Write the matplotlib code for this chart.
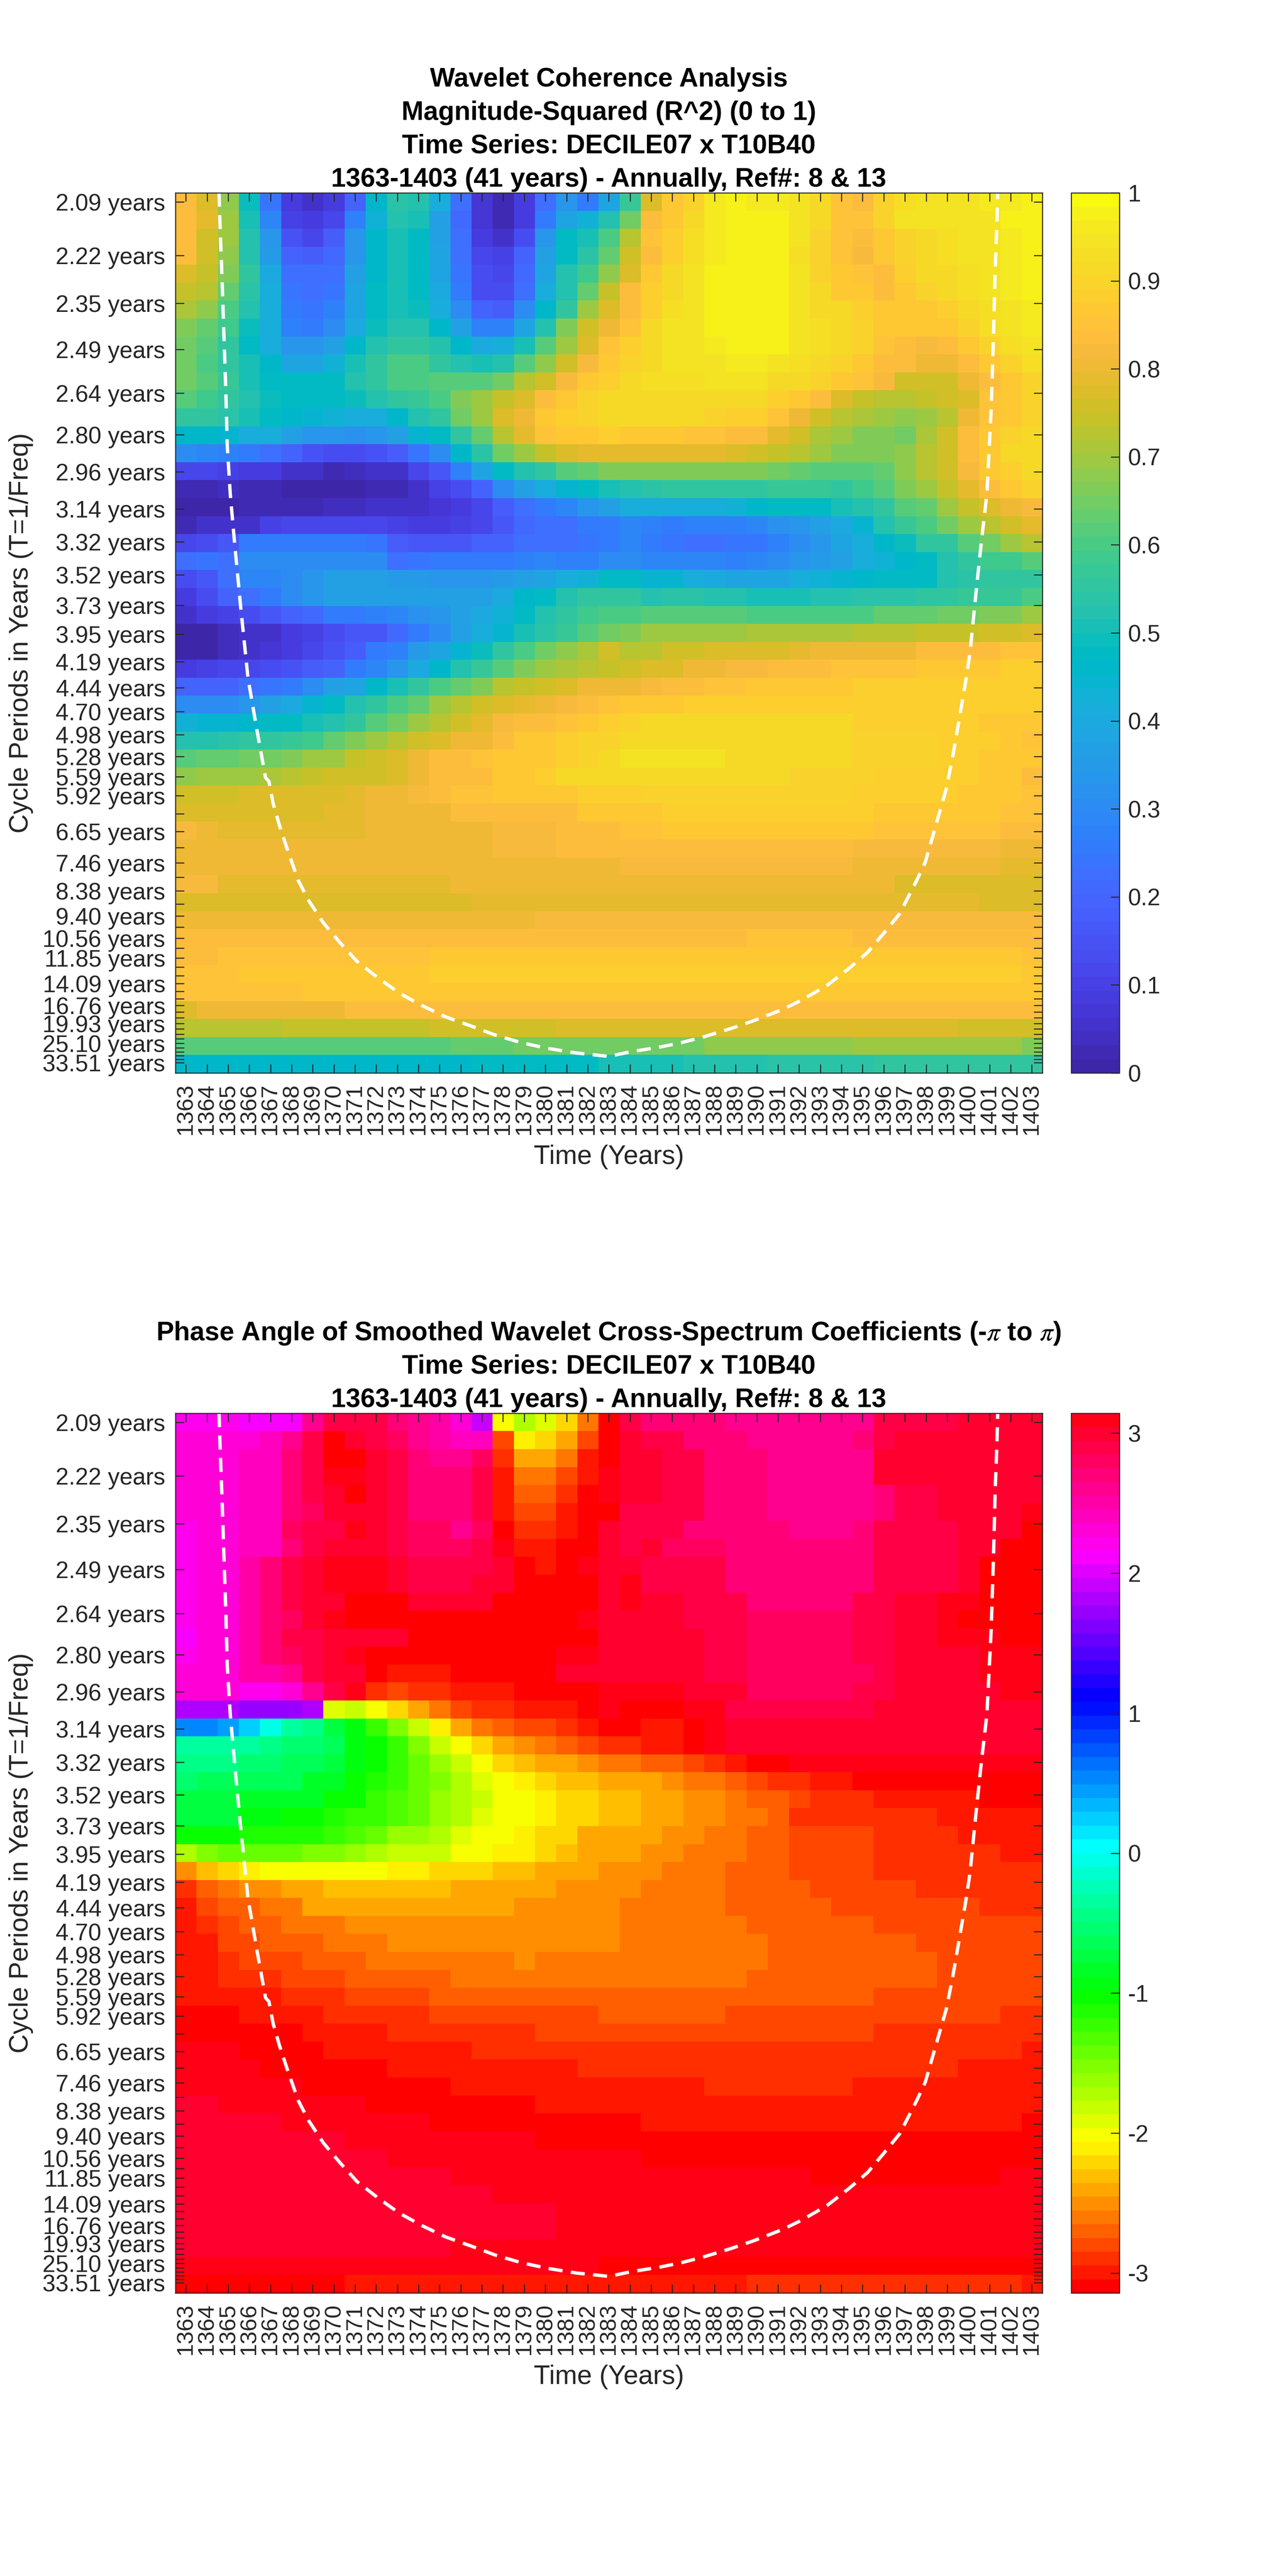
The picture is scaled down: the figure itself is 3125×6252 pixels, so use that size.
import numpy as np
import matplotlib
matplotlib.use("Agg")
import matplotlib.pyplot as plt
from matplotlib.colors import ListedColormap, hsv_to_rgb

plt.rcParams['font.family'] = ['Liberation Sans', 'DejaVu Sans']
plt.rcParams['mathtext.fontset'] = 'stix'

years = list(range(1363, 1404))
cycle_periods = [2.09,2.22,2.35,2.49,2.64,2.80,2.96,3.14,3.32,3.52,3.73,3.95,4.19,4.44,4.70,4.98,5.28,5.59,5.92,6.27,6.65,7.05,7.46,7.91,8.38,8.88,9.40,9.96,10.56,11.18,11.85,12.55,13.30,14.09,14.93,15.82,16.76,17.75,18.81,19.93,21.11,22.37,23.70,25.10,26.60,28.18,29.85,31.63,33.51]
labelled_periods = [2.09,2.22,2.35,2.49,2.64,2.80,2.96,3.14,3.32,3.52,3.73,3.95,4.19,4.44,4.70,4.98,5.28,5.59,5.92,6.65,7.46,8.38,9.40,10.56,11.85,14.09,16.76,19.93,25.10,33.51]

# Cone of influence (year, frequency in 1/years)
coi_years = [1364.57,1364.63,1364.71,1364.79,1364.89,1364.96,1365.10,1365.30,1365.58,1365.94,1366.33,1366.77,1366.93,1367.13,1367.43,1367.83,1368.32,1368.82,1369.51,1370.31,1371.10,1372.10,1373.09,1374.18,1375.28,1376.47,1377.66,1378.85,1380.05,1381.44,1383.00,1384.03,1385.44,1386.45,1387.46,1388.77,1389.88,1391.20,1392.10,1393.31,1394.32,1395.23,1396.04,1396.75,1397.55,1397.96,1398.46,1398.96,1399.27,1399.57,1399.87,1400.08,1400.34,1400.58,1400.88,1401.08,1401.19,1401.27,1401.35,1401.39]
coi_freq = [.4832,.4625,.4395,.4126,.3801,.3513,.3264,.3015,.2688,.2302,.2052,.1783,.1764,.1649,.1534,.1400,.1247,.1141,.1026,.0921,.0825,.0739,.0661,.0595,.0537,.0490,.0441,.0403,.0374,.0349,.0331,.0355,.0380,.0403,.0432,.0476,.0518,.0575,.0623,.0700,.0786,.0872,.0978,.1074,.1246,.1342,.1534,.1726,.1898,.2089,.2282,.2435,.2723,.2976,.3264,.3704,.4088,.4433,.4664,.4832]

# Coherence (R^2) in hundredths, one list per period row
R01=[83,78,68,49,24,8,5,8,20,46,54,53,42,23,7,2,8,22,33,25,38,57,77,86,90,96,98,96,96,95,91,85,84,90,93,94,94,94,96,96,98]
R02=[83,79,69,50,29,10,8,12,27,43,52,51,36,21,7,3,9,26,38,43,52,65,83,87,92,96,97,97,97,95,91,85,85,90,94,95,95,94,95,97,98]
R03=[84,76,69,52,33,15,12,18,33,46,50,47,37,22,9,5,14,33,47,50,60,72,85,89,93,96,97,97,97,94,90,85,83,87,90,92,93,94,95,96,98]
R04=[83,76,68,53,35,20,18,21,34,46,50,47,39,23,12,10,20,36,47,54,64,75,84,89,93,96,98,98,98,93,90,85,82,86,90,92,93,94,95,96,98]
R05=[78,74,66,55,40,23,22,23,36,46,50,47,39,24,13,11,21,39,52,58,68,77,87,91,94,97,98,98,97,94,90,87,85,84,88,91,92,93,95,96,97]
R06=[74,72,63,54,41,24,23,24,38,47,50,47,40,25,14,13,22,41,53,63,74,83,88,91,94,97,98,98,97,94,91,87,86,84,87,90,91,93,94,96,97]
R07=[71,68,60,52,41,26,24,27,39,48,51,49,42,30,19,18,31,46,56,69,78,84,89,93,95,97,97,97,97,95,92,91,89,87,86,87,89,92,93,95,96]
R08=[67,64,58,49,41,28,26,31,40,49,53,53,46,36,27,27,38,52,66,76,81,85,91,94,95,97,97,97,97,95,93,91,90,87,86,86,87,90,93,95,96]
R09=[65,61,55,48,42,34,33,36,46,53,56,56,52,46,40,41,50,61,70,77,85,88,92,94,95,96,97,97,97,95,93,92,90,85,84,82,84,86,90,93,94]
R10=[65,60,56,50,46,39,38,43,50,55,60,60,56,53,50,53,61,68,75,82,87,90,92,94,94,95,96,96,94,93,92,90,87,84,83,80,80,83,86,90,93]
R11=[65,61,57,51,48,47,47,48,53,56,60,60,62,62,62,65,72,76,82,86,89,92,93,93,93,94,94,94,92,91,90,87,85,82,76,75,75,80,84,87,90]
R12=[62,58,55,52,49,47,47,47,49,53,56,57,60,66,70,74,77,83,87,90,92,92,92,92,92,92,92,92,88,86,83,78,74,73,73,74,75,77,85,87,90]
R13=[55,55,54,51,47,46,44,43,42,42,46,52,55,65,70,77,81,86,88,90,91,91,91,91,91,90,89,89,85,81,76,73,71,69,68,70,73,81,85,87,90]
R14=[46,46,44,42,41,37,34,33,32,33,37,45,48,56,64,73,79,85,87,87,88,86,86,86,85,85,84,84,79,75,71,69,67,66,65,71,75,84,86,90,92]
R15=[30,29,28,26,22,19,15,14,13,15,18,24,30,46,54,65,70,74,78,79,79,79,79,79,79,79,78,76,74,72,69,66,66,66,68,72,76,84,87,91,92]
R16=[11,11,10,8,8,5,5,3,4,5,5,11,17,28,38,47,53,56,61,63,66,67,67,67,67,67,67,67,65,63,62,61,61,64,68,72,76,82,86,88,91]
R17=[3,3,4,2,2,1,1,1,1,2,3,5,10,14,20,31,36,41,44,47,50,53,54,55,56,55,55,56,57,57,57,56,58,61,66,69,74,79,83,86,90]
R18=[0,0,0,2,2,2,3,4,4,5,5,6,7,8,12,18,22,26,29,34,37,41,42,41,41,42,43,46,47,48,48,50,53,55,61,64,69,74,77,80,82]
R19=[3,6,6,6,10,11,12,12,12,11,10,9,9,10,12,17,21,22,23,25,26,29,27,25,27,27,27,29,32,33,37,40,44,53,57,60,65,69,72,75,79]
R20=[11,13,17,25,25,25,25,25,25,24,18,17,17,17,19,20,22,22,22,24,25,29,25,24,23,23,24,24,28,31,33,38,42,46,49,55,56,62,65,69,72]
R21=[22,24,23,31,31,31,31,31,31,31,23,24,25,25,25,26,28,29,28,28,30,30,29,29,29,29,28,29,31,33,35,36,41,43,46,48,53,55,58,58,62]
R22=[13,17,22,29,29,30,33,36,36,37,35,35,34,34,33,35,36,38,41,43,47,47,45,44,42,40,39,39,39,41,43,44,46,47,48,48,52,54,55,55,55]
R23=[9,13,20,22,25,30,33,36,36,36,36,36,36,36,37,40,46,47,53,55,56,55,53,54,54,53,52,51,50,51,52,53,54,54,54,55,56,57,57,57,60]
R24=[5,8,10,13,16,19,21,25,26,27,29,32,33,37,40,43,47,53,55,58,60,60,62,62,62,62,62,60,60,60,60,60,60,63,63,63,65,65,67,67,69]
R25=[1,1,4,5,6,8,10,13,17,17,21,26,30,36,41,45,50,54,57,62,65,66,69,69,70,70,70,71,71,71,71,71,72,73,73,74,74,74,75,75,77]
R26=[1,1,4,5,7,8,12,15,18,25,27,35,38,45,49,55,60,65,68,71,75,73,72,75,76,77,77,77,78,79,80,80,81,81,81,83,83,83,83,85,85]
R27=[9,10,11,12,13,15,18,20,26,29,34,40,46,52,57,61,66,69,71,73,74,75,77,78,80,81,82,82,83,84,84,85,85,85,85,86,86,86,86,88,88]
R28=[19,19,20,22,24,26,30,36,38,46,50,56,60,64,66,72,74,76,78,80,81,81,82,83,83,85,85,86,86,87,87,87,88,88,88,88,88,88,88,88,88]
R29=[31,31,31,33,37,40,44,47,52,55,60,64,70,73,75,78,79,80,82,83,85,86,86,87,88,88,88,89,89,89,89,89,89,89,89,89,89,89,89,89,89]
R30=[43,44,44,46,47,47,50,52,56,61,65,69,73,75,79,82,83,84,85,87,88,90,91,91,91,91,92,92,92,92,92,92,89,89,89,89,89,89,87,87,87]
R31=[52,53,54,55,56,57,59,64,67,70,73,75,78,80,81,84,86,86,88,90,90,91,91,92,92,92,92,92,92,92,92,92,90,90,90,90,89,89,89,87,85]
R32=[62,63,64,65,65,67,69,70,74,76,77,80,83,84,85,87,87,87,89,90,92,94,95,95,95,95,92,92,92,92,92,92,90,90,90,90,89,89,87,86,86]
R33=[68,70,70,70,71,72,74,75,75,76,77,81,83,84,84,86,87,89,91,92,92,92,92,92,92,92,92,92,92,90,90,90,90,88,88,88,88,88,86,86,84]
R34=[75,75,75,77,77,77,78,78,79,81,81,82,83,85,85,86,86,87,87,88,88,88,90,90,90,90,90,90,90,90,90,90,88,88,88,88,88,87,87,87,85]
R35=[78,78,78,78,78,78,78,79,79,80,80,81,81,83,83,84,84,84,84,86,86,86,86,88,88,88,88,88,88,88,88,88,88,87,87,87,87,87,87,85,85]
R36=[82,80,79,79,79,79,79,79,79,80,81,81,81,81,81,82,82,82,83,84,84,85,85,87,87,87,87,87,87,87,87,87,87,85,85,85,85,85,85,84,83]
R37=[81,81,81,81,81,81,81,81,81,81,81,81,81,81,81,82,82,82,83,83,83,83,83,83,83,83,83,83,83,83,83,83,82,82,82,82,82,82,82,81,80]
R38=[81,81,81,81,81,81,81,81,81,81,81,81,81,81,80,80,80,81,81,81,81,82,82,82,82,82,82,82,82,82,82,82,80,80,80,80,80,80,80,79,79]
R39=[82,82,79,79,79,79,79,79,79,79,79,79,79,80,80,80,80,80,80,80,80,80,80,80,80,80,80,80,80,80,80,80,80,80,78,78,78,78,78,78,78]
R40=[78,78,78,78,78,78,78,78,78,78,78,78,78,78,79,79,79,79,79,79,79,79,79,79,79,79,79,79,79,79,79,79,79,79,79,79,79,79,78,78,78]
R41=[81,81,81,81,81,81,81,81,81,81,81,81,81,81,81,81,81,82,82,82,82,82,82,82,82,82,82,82,82,82,82,82,82,82,82,82,82,82,82,82,82]
R42=[83,83,83,83,83,83,83,83,83,83,83,83,83,84,84,84,84,84,84,84,84,84,84,84,84,84,84,85,85,85,85,85,84,84,84,84,84,84,84,84,84]
R43=[84,84,85,85,85,85,85,85,85,85,85,85,87,87,87,87,87,87,87,87,87,87,87,87,87,87,87,87,87,87,87,87,87,87,87,87,87,87,87,87,85]
R44=[85,85,85,87,87,87,87,87,87,87,87,87,88,88,88,88,88,88,88,88,88,88,88,88,88,88,88,88,88,88,88,88,88,88,88,88,88,88,88,88,87]
R45=[85,85,85,85,85,85,86,86,86,86,86,86,86,86,86,86,87,87,87,87,87,87,87,87,87,87,87,87,87,87,87,87,87,87,87,87,87,87,86,86,86]
R46=[77,81,81,81,81,81,81,81,83,83,83,83,83,83,83,83,84,84,84,84,84,84,84,84,84,84,84,84,84,84,84,84,84,84,84,84,84,84,84,84,84]
R47=[72,72,72,72,72,74,74,74,74,74,74,74,75,75,75,75,75,75,77,77,77,77,77,77,77,77,77,77,77,77,77,77,77,77,77,77,77,76,76,76,76]
R48=[61,61,61,61,61,61,61,62,62,62,62,62,62,63,63,63,65,65,65,65,65,65,65,65,65,68,68,68,68,68,68,68,70,70,70,70,70,70,70,70,66]
R49=[46,46,46,46,46,46,46,46,46,46,46,46,46,46,48,48,48,48,48,48,50,50,50,50,52,52,52,52,54,54,54,54,54,56,56,56,56,56,56,56,56]

# Phase angle in hundredths of a radian, one list per period row
P01=[221,221,221,211,211,211,260,290,290,290,270,260,250,231,190,-201,-172,-192,-221,-260,-309,290,270,270,270,270,260,260,260,260,260,260,260,290,290,290,290,299,299,299,299]
P02=[231,231,231,231,241,260,290,-309,299,290,280,260,250,241,241,-280,-211,-221,-240,-280,-309,299,290,290,270,270,270,260,260,260,260,260,270,290,299,299,299,299,299,299,299]
P03=[231,231,231,241,241,270,290,-309,-309,299,290,270,260,260,280,-290,-240,-240,-260,-299,-309,299,299,290,290,270,270,270,260,260,260,260,260,299,299,299,299,299,299,299,299]
P04=[231,231,231,241,241,270,290,309,309,299,290,270,270,270,290,-299,-260,-260,-280,-299,309,299,299,290,290,270,270,270,260,260,260,260,260,299,299,299,299,299,299,299,299]
P05=[231,231,231,241,241,270,290,299,-309,299,290,270,270,270,290,-299,-270,-270,-290,-309,309,299,299,290,290,270,270,270,260,260,260,260,260,270,290,290,299,299,299,299,299]
P06=[231,231,231,241,241,270,280,299,299,299,290,270,270,270,290,-299,-280,-280,-299,-309,-309,290,290,290,290,270,270,270,260,260,260,260,260,270,290,290,299,299,299,299,309]
P07=[221,231,231,241,241,280,290,290,309,299,290,280,280,260,280,-309,-290,-290,-299,-309,299,290,290,290,270,270,270,270,270,260,260,260,270,290,290,290,290,299,299,299,-309]
P08=[221,231,231,241,241,270,290,299,299,299,290,280,280,280,290,309,-299,-299,-309,-309,299,290,299,280,280,280,270,270,270,270,270,270,270,290,290,290,290,299,299,-309,-309]
P09=[221,231,231,250,270,290,299,309,309,309,299,290,290,290,290,299,-309,-299,-309,309,299,299,290,290,290,290,270,270,270,270,270,270,270,290,290,290,290,299,-309,-309,-309]
P10=[221,231,231,250,270,290,299,309,309,309,299,290,290,290,299,299,-309,-309,-309,-309,299,309,290,290,290,290,270,270,270,270,270,270,270,290,290,290,290,299,-309,-309,-309]
P11=[221,231,231,250,270,290,299,299,-309,-309,-309,299,299,299,299,-309,-309,-309,-309,-309,299,309,299,299,290,290,290,270,270,270,270,270,290,290,299,299,309,309,-309,-309,-309]
P12=[221,231,231,250,270,280,299,309,-309,-309,-309,-309,-309,-309,-309,-309,-309,-309,-309,309,299,299,299,299,290,290,290,280,280,280,280,280,290,290,299,299,309,-309,-309,-309,-309]
P13=[211,231,231,250,270,290,290,299,299,299,299,-309,-309,-309,-309,-309,-309,-309,-309,-309,299,299,299,299,299,290,290,280,280,280,280,280,290,290,299,299,309,309,309,-309,-309]
P14=[221,231,231,250,270,280,290,299,309,-309,-309,-309,-309,-309,-309,-309,-309,-309,309,309,299,299,299,299,299,290,290,280,280,280,280,280,290,290,299,299,299,299,309,309,309]
P15=[231,231,231,250,250,260,290,299,299,-309,-299,-299,-299,-309,-309,-309,-309,-309,299,299,299,299,299,299,299,290,290,280,280,280,280,280,280,290,299,299,299,299,309,309,309]
P16=[231,231,231,221,221,231,260,290,309,-290,-280,-290,-290,-299,-299,-299,-309,-309,-309,-309,309,309,309,309,299,299,299,280,280,280,280,280,290,290,299,299,299,299,299,309,309]
P17=[185,185,185,175,175,175,185,-192,-182,-201,-221,-240,-260,-280,-290,-290,-299,-299,-299,-309,309,-309,-309,-309,309,309,290,290,290,290,290,290,290,299,299,299,299,299,299,299,299]
P18=[54,54,44,25,-5,-35,-45,-74,-94,-123,-152,-182,-211,-240,-260,-270,-280,-280,-290,-299,-309,-309,-299,-299,-309,309,299,299,299,299,299,299,299,299,299,299,299,299,299,299,299]
P19=[-35,-35,-35,-35,-45,-54,-54,-64,-94,-103,-123,-152,-182,-201,-221,-240,-250,-260,-270,-280,-290,-290,-299,-299,-309,309,299,299,299,299,299,299,299,299,299,299,299,299,299,299,299]
P20=[-45,-45,-45,-54,-54,-64,-64,-74,-94,-103,-123,-143,-162,-182,-201,-221,-231,-240,-240,-250,-260,-260,-270,-270,-280,-290,-299,-309,-309,309,309,309,309,309,309,309,309,309,309,309,309]
P21=[-54,-64,-64,-64,-64,-64,-84,-84,-103,-113,-123,-143,-152,-172,-192,-201,-211,-221,-231,-231,-240,-240,-240,-250,-260,-260,-270,-280,-290,-290,-299,-299,-309,-309,-309,-309,-309,-309,-309,-309,-309]
P22=[-74,-74,-74,-84,-84,-84,-84,-103,-103,-123,-133,-143,-162,-172,-182,-201,-201,-211,-221,-221,-231,-231,-240,-240,-250,-250,-260,-270,-270,-280,-290,-290,-290,-299,-299,-299,-299,-299,-309,-309,-309]
P23=[-74,-74,-74,-94,-94,-103,-103,-113,-123,-123,-133,-143,-162,-172,-192,-201,-201,-211,-221,-221,-231,-231,-240,-240,-250,-250,-260,-260,-270,-290,-290,-290,-290,-290,-290,-290,-299,-299,-299,-299,-299]
P24=[-103,-103,-103,-113,-113,-113,-113,-123,-133,-143,-162,-162,-172,-192,-201,-201,-211,-221,-221,-240,-240,-240,-240,-250,-250,-260,-260,-270,-270,-280,-280,-280,-280,-290,-290,-290,-290,-299,-299,-299,-299]
P25=[-172,-152,-143,-143,-143,-143,-152,-152,-162,-172,-182,-182,-182,-201,-201,-211,-211,-221,-231,-240,-240,-240,-250,-250,-260,-260,-260,-270,-270,-280,-280,-280,-280,-290,-290,-290,-290,-290,-290,-299,-299]
P26=[-250,-231,-221,-211,-201,-201,-201,-201,-201,-201,-211,-211,-221,-221,-221,-231,-231,-240,-240,-240,-250,-250,-250,-260,-260,-260,-270,-270,-270,-280,-280,-280,-280,-290,-290,-290,-290,-290,-290,-290,-290]
P27=[-290,-270,-260,-250,-250,-240,-240,-231,-231,-231,-231,-231,-231,-240,-240,-240,-240,-240,-250,-250,-250,-250,-260,-260,-260,-260,-270,-270,-270,-270,-280,-280,-280,-280,-280,-290,-290,-290,-290,-290,-290]
P28=[-299,-280,-270,-270,-260,-260,-240,-240,-240,-240,-240,-240,-240,-240,-240,-240,-250,-250,-250,-250,-250,-260,-260,-260,-260,-260,-270,-270,-270,-270,-270,-280,-280,-280,-280,-280,-280,-280,-290,-290,-290]
P29=[-299,-290,-280,-270,-270,-260,-260,-260,-250,-250,-250,-250,-250,-250,-250,-250,-250,-250,-250,-250,-250,-260,-260,-260,-260,-260,-260,-270,-270,-270,-270,-270,-270,-280,-280,-280,-280,-280,-280,-280,-280]
P30=[-299,-299,-280,-280,-270,-270,-270,-260,-260,-260,-250,-250,-250,-250,-250,-250,-250,-250,-250,-250,-250,-260,-260,-260,-260,-260,-260,-260,-270,-270,-270,-270,-270,-270,-270,-280,-280,-280,-280,-280,-280]
P31=[-299,-299,-290,-280,-280,-280,-270,-270,-270,-260,-260,-260,-260,-260,-260,-260,-250,-260,-260,-260,-260,-260,-260,-260,-260,-260,-260,-260,-270,-270,-270,-270,-270,-270,-270,-270,-280,-280,-280,-280,-280]
P32=[-299,-299,-290,-290,-290,-280,-280,-280,-270,-270,-270,-270,-270,-260,-260,-260,-260,-260,-260,-260,-260,-260,-260,-260,-260,-260,-260,-270,-270,-270,-270,-270,-270,-270,-270,-270,-280,-280,-280,-280,-280]
P33=[-299,-299,-299,-299,-299,-290,-290,-290,-280,-280,-280,-280,-270,-270,-270,-270,-270,-270,-270,-270,-270,-270,-270,-270,-270,-270,-270,-270,-270,-270,-270,-270,-270,-280,-280,-280,-280,-280,-280,-280,-280]
P34=[-309,-309,-309,-299,-299,-299,-299,-290,-290,-290,-290,-290,-280,-280,-280,-280,-280,-280,-280,-280,-270,-270,-270,-270,-270,-270,-280,-280,-280,-280,-280,-280,-280,-280,-280,-280,-280,-280,-280,-290,-290]
P35=[-309,-309,-309,-309,-309,-309,-299,-299,-299,-299,-290,-290,-290,-290,-290,-290,-290,-280,-280,-280,-280,-280,-280,-280,-280,-280,-280,-280,-280,-280,-280,-280,-280,-290,-290,-290,-290,-290,-290,-290,-290]
P36=[309,309,309,-309,-309,-309,-309,-299,-299,-299,-299,-299,-299,-299,-290,-290,-290,-290,-290,-290,-290,-290,-290,-290,-290,-290,-290,-290,-290,-290,-290,-290,-290,-290,-290,-290,-290,-290,-290,-290,-299]
P37=[309,309,309,309,-309,-309,-309,-309,-309,-309,-299,-299,-299,-299,-299,-299,-299,-299,-299,-290,-290,-290,-290,-290,-290,-290,-290,-290,-290,-290,-290,-290,-290,-290,-290,-290,-290,-299,-299,-299,-299]
P38=[309,309,309,309,309,309,-309,-309,-309,-309,-309,-309,-309,-299,-299,-299,-299,-299,-299,-299,-299,-299,-299,-299,-299,-290,-290,-290,-290,-290,-290,-290,-299,-299,-299,-299,-299,-299,-299,-299,-299]
P39=[299,299,309,309,309,309,309,309,309,-309,-309,-309,-309,-309,-309,-309,-309,-299,-299,-299,-299,-299,-299,-299,-299,-299,-299,-299,-299,-299,-299,-299,-299,-299,-299,-299,-299,-299,-299,-299,-299]
P40=[299,299,299,299,299,309,309,309,309,309,309,309,-309,-309,-309,-309,-309,-309,-309,-309,-309,-309,-299,-299,-299,-299,-299,-299,-299,-299,-299,-299,-299,-299,-299,-299,-299,-299,-299,-299,-309]
P41=[299,299,299,299,299,299,299,299,309,309,309,309,309,309,309,309,309,-309,-309,-309,-309,-309,-309,-309,-309,-309,-309,-309,-309,-309,-309,-309,-309,-309,-309,-309,-309,-309,-309,-309,-309]
P42=[299,299,299,299,299,299,299,299,299,299,309,309,309,309,309,309,309,309,309,309,309,309,-309,-309,-309,-309,-309,-309,-309,-309,-309,-309,-309,-309,-309,-309,-309,-309,-309,-309,-309]
P43=[299,299,299,299,299,299,299,299,299,299,299,299,299,309,309,309,309,309,309,309,309,309,309,309,309,309,309,309,309,309,-309,-309,-309,-309,-309,-309,-309,-309,-309,309,309]
P44=[299,299,299,299,299,299,299,299,299,299,299,299,299,299,299,309,309,309,309,309,309,309,309,309,309,309,309,309,309,309,309,309,309,309,309,309,309,309,309,309,309]
P45=[299,299,299,299,299,299,299,299,299,299,299,299,299,299,299,299,299,299,309,309,309,309,309,309,309,309,309,309,309,309,309,309,309,309,309,309,309,309,309,309,309]
P46=[299,299,299,299,299,299,299,299,299,299,299,299,299,299,299,299,299,299,309,309,309,309,309,309,309,309,309,309,309,309,309,309,309,309,309,309,309,309,309,309,309]
P47=[299,299,299,299,299,299,299,299,299,299,299,299,299,309,309,309,309,309,309,309,309,309,309,309,309,309,309,309,309,309,309,309,309,309,309,309,309,309,309,309,309]
P48=[309,309,309,309,309,309,309,309,309,309,309,309,309,309,309,309,309,309,309,309,-309,-309,-309,-309,-309,-309,-309,-309,-309,-309,-309,-309,-309,-309,-309,-309,-309,-309,-309,-309,-309]
P49=[-309,-309,-309,-309,-309,-309,-309,-309,-299,-299,-299,-299,-299,-299,-299,-299,-299,-299,-299,-299,-299,-299,-299,-299,-299,-299,-299,-290,-290,-290,-290,-290,-290,-290,-290,-290,-290,-290,-290,-290,-299]

parula_rgb = [
 (.2422,.1504,.6603),(.2504,.1650,.7076),(.2578,.1818,.7511),(.2647,.1978,.7952),(.2706,.2147,.8364),(.2751,.2342,.8710),(.2783,.2559,.8991),(.2803,.2782,.9221),
 (.2813,.3006,.9414),(.2810,.3228,.9579),(.2795,.3447,.9717),(.2760,.3667,.9829),(.2699,.3892,.9906),(.2602,.4123,.9952),(.2440,.4358,.9988),(.2206,.4603,.9973),
 (.1963,.4847,.9892),(.1834,.5074,.9798),(.1786,.5289,.9682),(.1764,.5499,.9520),(.1687,.5703,.9359),(.1540,.5902,.9218),(.1460,.6091,.9079),(.1380,.6276,.8973),
 (.1248,.6459,.8883),(.1113,.6635,.8763),(.0952,.6798,.8598),(.0689,.6948,.8394),(.0297,.7082,.8163),(.0036,.7203,.7917),(.0067,.7312,.7660),(.0433,.7411,.7394),
 (.0964,.7500,.7120),(.1408,.7584,.6842),(.1717,.7670,.6554),(.1938,.7758,.6251),(.2161,.7843,.5923),(.2470,.7918,.5567),(.2906,.7973,.5188),(.3406,.8008,.4789),
 (.3909,.8029,.4354),(.4456,.8024,.3909),(.5044,.7993,.3480),(.5616,.7942,.3045),(.6174,.7876,.2612),(.6720,.7793,.2227),(.7242,.7698,.1910),(.7738,.7598,.1646),
 (.8203,.7498,.1535),(.8634,.7406,.1596),(.9035,.7330,.1774),(.9393,.7288,.2100),(.9728,.7298,.2394),(.9956,.7434,.2371),(.9970,.7659,.2199),(.9952,.7861,.1967),
 (.9892,.8086,.1817),(.9786,.8310,.1687),(.9676,.8533,.1535),(.9610,.8720,.1423),(.9597,.8939,.1395),(.9628,.9147,.1250),(.9691,.9437,.1000),(.9763,.9831,.0538)]
parula = ListedColormap(parula_rgb)
hsv64 = ListedColormap([hsv_to_rgb((i / 64, 1, 1)) for i in range(64)])

rows_R = [R01,R02,R03,R04,R05,R06,R07,R08,R09,R10,R11,R12,R13,R14,R15,R16,R17,R18,R19,R20,R21,R22,R23,R24,R25,R26,R27,R28,R29,R30,R31,R32,R33,R34,R35,R36,R37,R38,R39,R40,R41,R42,R43,R44,R45,R46,R47,R48,R49]
rows_P = [P01,P02,P03,P04,P05,P06,P07,P08,P09,P10,P11,P12,P13,P14,P15,P16,P17,P18,P19,P20,P21,P22,P23,P24,P25,P26,P27,P28,P29,P30,P31,P32,P33,P34,P35,P36,P37,P38,P39,P40,P41,P42,P43,P44,P45,P46,P47,P48,P49]
coherence = np.array(rows_R) / 100.0
phase = np.array(rows_P) / 100.0

W, H = 3125, 6252
DPI = 300
fig = plt.figure(figsize=(W / DPI, H / DPI), dpi=DPI, facecolor='white')
DARK = '#262626'
TICK_FS, LABEL_FS, TITLE_FS = 13.7, 15.5, 15.4
FREQ_TOP, FREQ_BOTTOM = 0.4831, 0.02448


def rect(x0, x1, y0, y1):
    return [x0 / W, 1 - y1 / H, (x1 - x0) / W, (y1 - y0) / H]


def panel(data, cmap, vmin, vmax, top, bottom, title_lines, title_base, cticks, clabels):
    ax = fig.add_axes(rect(425.5, 2531, top, bottom))
    im = ax.imshow(data, cmap=cmap, vmin=vmin, vmax=vmax, aspect='auto', interpolation='nearest',
                   extent=[years[0] - .5, years[-1] + .5, FREQ_BOTTOM, FREQ_TOP], origin='upper')
    ax.plot(coi_years, coi_freq, color='white', lw=1.95, ls=(0, (4.2, 2.5)), dash_capstyle='butt')
    ax.set_xlim(years[0] - .5, years[-1] + .5)
    ax.set_ylim(FREQ_BOTTOM, FREQ_TOP)
    ax.set_xticks(years)
    ax.set_xticklabels([str(y) for y in years], rotation=90, fontsize=13.5, color=DARK)
    ax.set_yticks([1 / p for p in cycle_periods])
    ax.set_yticklabels([f'{p:.2f} years' if p in labelled_periods else '' for p in cycle_periods],
                       fontsize=TICK_FS, color=DARK)
    ax.tick_params(axis='both', which='major', direction='in', length=5, width=0.6, color=DARK,
                   top=True, right=True, bottom=True, left=True)
    ax.tick_params(axis='x', pad=6)
    ax.tick_params(axis='y', pad=5.8)
    for s in ax.spines.values():
        s.set_linewidth(0.6)
        s.set_color(DARK)
    ax.set_xlabel('Time (Years)', fontsize=LABEL_FS, color=DARK)
    ax.xaxis.set_label_coords(1478 / W, 1 - (bottom + 221) / H, transform=fig.transFigure)
    ax.xaxis.label.set_verticalalignment('baseline')
    ax.set_ylabel('Cycle Periods in Years (T=1/Freq)', fontsize=LABEL_FS, color=DARK)
    ax.yaxis.set_label_coords(68 / W, 1 - (top + bottom) / 2 / H, transform=fig.transFigure)
    ax.yaxis.label.set_verticalalignment('baseline')
    for i, line in enumerate(title_lines):
        fig.text(1478 / W, 1 - (title_base + 81 * i) / H, line, ha='center', va='baseline',
                 fontsize=TITLE_FS, fontweight='bold', color='black')
    cax = fig.add_axes(rect(2600.5, 2717.5, top, bottom))
    cb = fig.colorbar(im, cax=cax, ticks=cticks)
    cb.ax.set_yticklabels(clabels, fontsize=TICK_FS, color=DARK)
    cb.ax.tick_params(direction='in', length=5, width=0.6, color=DARK, pad=5)
    cb.outline.set_linewidth(0.6)
    cb.outline.set_edgecolor(DARK)
    return ax


panel(coherence, parula, 0, 1, 468, 2604,
      ['Wavelet Coherence Analysis', 'Magnitude-Squared (R^2) (0 to 1)',
       'Time Series: DECILE07 x T10B40', '1363-1403 (41 years) - Annually, Ref#: 8 & 13'], 210,
      [0, .1, .2, .3, .4, .5, .6, .7, .8, .9, 1],
      ['0', '0.1', '0.2', '0.3', '0.4', '0.5', '0.6', '0.7', '0.8', '0.9', '1'])
panel(phase, hsv64, -np.pi, np.pi, 3430, 5565,
      [r'Phase Angle of Smoothed Wavelet Cross-Spectrum Coefficients (-$\pi$ to $\pi$)',
       'Time Series: DECILE07 x T10B40', '1363-1403 (41 years) - Annually, Ref#: 8 & 13'], 3253,
      [-3, -2, -1, 0, 1, 2, 3], ['-3', '-2', '-1', '0', '1', '2', '3'])

fig.savefig('out.png', dpi=DPI, facecolor='white')
